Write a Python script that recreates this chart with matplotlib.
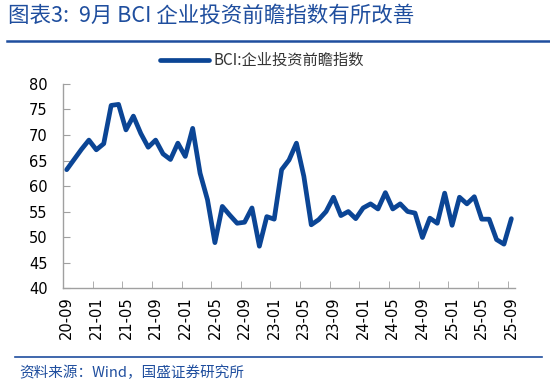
import numpy as np
import matplotlib
matplotlib.use("Agg")
import matplotlib.pyplot as plt
from matplotlib.ticker import FixedLocator, NullFormatter

plt.rcParams['font.family'] = ['DejaVu Sans', 'Noto Sans CJK SC']

# =========================================================
#  DATOS
# =========================================================
# BCI mensual, 2020-09 ... 2025-09 (61 meses)
bci = [63.2, 65.2, 67.2, 69.0, 67.1, 68.3, 75.8, 76.0, 71.0, 73.7,
       70.3, 67.6, 69.0, 66.3, 65.2, 68.4, 65.8, 71.3, 62.5, 57.3,
       48.9, 56.0, 54.3, 52.7, 52.9, 55.7, 48.2, 54.0, 53.5, 63.2,
       65.1, 68.4, 61.9, 52.4, 53.4, 55.0, 57.8, 54.2, 55.0, 53.6,
       55.7, 56.5, 55.5, 58.7, 55.5, 56.5, 55.0, 54.7, 49.9, 53.7,
       52.7, 58.6, 52.3, 57.8, 56.5, 57.9, 53.5, 53.5, 49.5, 48.6,
       53.6]
tick_labels = ["20-09", "21-01", "21-05", "21-09", "22-01", "22-05",
               "22-09", "23-01", "23-05", "23-09", "24-01", "24-05",
               "24-09", "25-01", "25-05", "25-09"]
y_ticks = [40, 45, 50, 55, 60, 65, 70, 75, 80]

title = "图表3:  9月 BCI 企业投资前瞻指数有所改善"
series_name = "BCI:企业投资前瞻指数"
source = "资料来源：Wind，国盛证券研究所"

BLUE = "#0B4595"
DARK = "#1F4E9E"
CJK = ['Noto Sans CJK SC', 'DejaVu Sans']

# =========================================================
#  FIGURA
# =========================================================
fig = plt.figure(figsize=(5.5, 3.8), dpi=100)
ax = fig.add_axes([0.1145, 0.242, 0.822, 0.537])

x = np.arange(len(bci))
ax.plot(x, bci, color=BLUE, lw=3.4, solid_joinstyle='round',
        solid_capstyle='round', label=series_name)

ax.set_xlim(-0.5, len(bci) - 0.5)
ax.set_ylim(40, 80)
ax.set_yticks(y_ticks)

# etiquetas en el centro de cada 4 meses, marcas entre categorías
ax.set_xticks(np.arange(0, len(bci), 4))
ax.set_xticklabels(tick_labels, rotation=90, fontsize=10.5)
ax.xaxis.set_minor_locator(FixedLocator(np.arange(-0.5, len(bci), 4)))
ax.xaxis.set_minor_formatter(NullFormatter())
ax.tick_params(axis='x', which='major', length=0, pad=6)
ax.tick_params(axis='x', which='minor', length=5, direction='in',
               color='#A0A0A0')
ax.tick_params(axis='y', length=5, direction='in', color='#A0A0A0',
               labelsize=10.5, pad=11)

for s in ['top', 'right']:
    ax.spines[s].set_visible(False)
for s in ['left', 'bottom']:
    ax.spines[s].set_color('#A0A0A0')
    ax.spines[s].set_linewidth(1.0)

leg = ax.legend(loc='lower center', bbox_to_anchor=(0.44, 1.02), frameon=False,
                handlelength=3.2, handletextpad=0.3, borderaxespad=0.3,
                prop={'family': CJK, 'size': 11})
for t in leg.get_texts():
    t.set_color('#333333')

# título y fuente
fig.text(0.015, 0.958, title, fontsize=15.5, color=DARK, style='italic',
         family=CJK, va='center', ha='left')
fig.add_artist(plt.Line2D([0.012, 0.998], [0.892, 0.892],
                          color=DARK, lw=1.8, transform=fig.transFigure))
fig.add_artist(plt.Line2D([0.027, 0.985], [0.06, 0.06],
                          color=DARK, lw=1.2, transform=fig.transFigure))
fig.text(0.035, 0.018, source, fontsize=10.5, color=DARK, style='italic',
         family=CJK, va='center', ha='left')

plt.savefig("out.png", dpi=100)
